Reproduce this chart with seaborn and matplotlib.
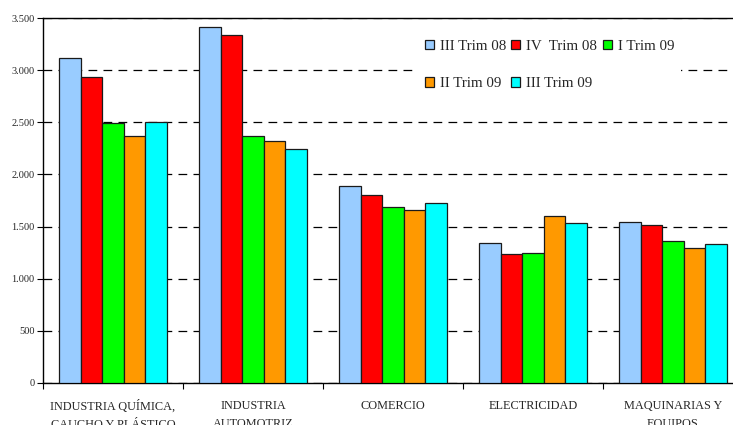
import matplotlib
matplotlib.use("Agg")
import matplotlib.pyplot as plt
import matplotlib.ticker as mticker
import seaborn as sns
import pandas as pd
import numpy as np

categories = [
    "INDUSTRIA QUÍMICA,\nCAUCHO Y PLÁSTICO",
    "INDUSTRIA\nAUTOMOTRIZ",
    "COMERCIO",
    "ELECTRICIDAD",
    "MAQUINARIAS Y\nEQUIPOS",
]
quarters = ["III Trim 08", "IV  Trim 08", "I Trim 09", "II Trim 09", "III Trim 09"]

iii_trim_08 = [3120, 3410, 1885, 1345, 1545]
iv_trim_08 = [2930, 3340, 1805, 1235, 1515]
i_trim_09 = [2490, 2370, 1690, 1245, 1365]
ii_trim_09 = [2365, 2320, 1655, 1600, 1295]
iii_trim_09 = [2500, 2240, 1730, 1530, 1335]

colors = ["#99CCFF", "#FF0000", "#00FF00", "#FF9900", "#00FFFF"]
y_ticks = [0, 500, 1000, 1500, 2000, 2500, 3000, 3500]

series = [iii_trim_08, iv_trim_08, i_trim_09, ii_trim_09, iii_trim_09]
df = pd.DataFrame(
    [(c, q, v) for q, vals in zip(quarters, series) for c, v in zip(categories, vals)],
    columns=["sector", "trimestre", "valor"],
)

sns.set_theme(style="white")
plt.rcParams["font.family"] = ["Liberation Serif", "DejaVu Serif"]

W, H = 733, 425
fig = plt.figure(figsize=(W / 100, H / 100), dpi=100)
ax = fig.add_axes([43 / W, 42 / H, 700 / W, 365 / H])

sns.barplot(
    data=df, x="sector", y="valor", hue="trimestre",
    order=categories, hue_order=quarters, palette=colors, saturation=1,
    width=0.771, gap=0, edgecolor="#1a1a1a", linewidth=0.9,
    errorbar=None, ax=ax, zorder=3,
)

ax.set_xlim(-0.5, 4.5)
ax.set_ylim(0, 3500)
ax.set_yticks(y_ticks)
ax.yaxis.set_major_formatter(
    mticker.FuncFormatter(lambda v, p: f"{int(v):,}".replace(",", "."))
)
ax.yaxis.grid(True, color="black", linestyle=(0, (7, 5)), linewidth=0.9, zorder=0)
ax.xaxis.grid(False)
ax.set_axisbelow(True)

ax.set_xlabel("")
ax.set_ylabel("")
ax.tick_params(axis="y", which="major", length=4, width=0.8, color="black",
               labelsize=7.5, pad=2, direction="out", left=True)
ax.tick_params(axis="x", which="major", length=0, labelsize=8.8, pad=12)
ax.set_xticks(np.arange(-0.5, 4.5, 1.0), minor=True)
ax.tick_params(axis="x", which="minor", length=4, width=0.8, color="black",
               direction="out", bottom=True)
for lab in ax.get_xticklabels():
    lab.set_linespacing(1.7)

for side in ["left", "bottom", "top"]:
    ax.spines[side].set_visible(True)
    ax.spines[side].set_color("black")
    ax.spines[side].set_linewidth(1.0)
ax.spines["right"].set_visible(False)

# legend laid out row by row: three entries on top, two below
handles, labels = ax.get_legend_handles_labels()
order = [0, 3, 1, 4, 2]
leg = ax.legend(
    [handles[i] for i in order], [labels[i] for i in order],
    ncol=3, loc="upper left",
    bbox_to_anchor=(418 / W, 1 - 33 / H), bbox_transform=fig.transFigure,
    frameon=True, fancybox=False, framealpha=1, edgecolor="white",
    fontsize=10.8, handlelength=0.6, handleheight=0.6,
    handletextpad=0.4, columnspacing=0.35, labelspacing=1.62,
    borderpad=0.45, borderaxespad=0,
)
leg.get_frame().set_linewidth(0)
leg.set_zorder(5)

fig.savefig("out.png", dpi=100, facecolor="white")
